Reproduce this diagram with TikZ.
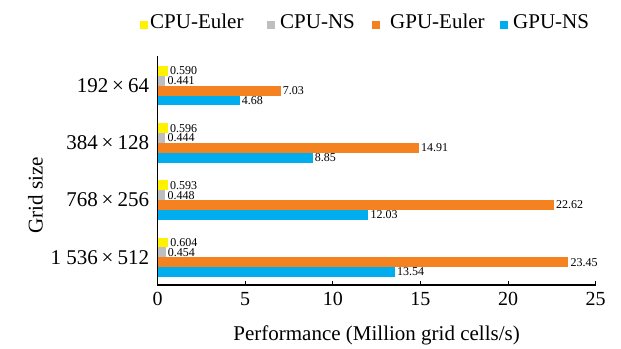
\documentclass[tikz,border=0pt]{standalone}
\usepackage{fontspec}
\setmainfont{Liberation Serif}
\usepackage{tikz}
\usetikzlibrary{positioning}

\definecolor{cpueuler}{HTML}{FFF200}
\definecolor{cpuns}{HTML}{BCBEC0}
\definecolor{gpueuler}{HTML}{F58220}
\definecolor{gpuns}{HTML}{00AEEF}

\newcommand{\gridby}[2]{#1\kern4pt×\kern4pt#2}

\begin{document}
\begin{tikzpicture}[x=17.52pt, y=1pt,
		series 0/.style={fill=cpueuler},
		series 1/.style={fill=cpuns},
		series 2/.style={fill=gpueuler},
		series 3/.style={fill=gpuns},
		axis/.style={line width=1.3pt, black},
		value/.style={anchor=west, inner xsep=2pt, inner ysep=0pt, font=\fontsize{12}{14}\selectfont},
		gridlabel/.style={anchor=east, inner sep=0pt, font=\fontsize{21}{25}\selectfont},
		ticklabel/.style={anchor=base, inner sep=0pt, font=\fontsize{20}{24}\selectfont},
		legendtext/.style={anchor=base west, inner sep=0pt, font=\fontsize{21}{25}\selectfont}]
\useasboundingbox (-157.6pt,-63) rectangle (463.4pt,285);

% bars, four per grid size
\foreach \grid/\vals [count=\i from 0] in {
		{\gridby{192}{64}}/{0.590,0.441,7.03,4.68},
		{\gridby{384}{128}}/{0.596,0.444,14.91,8.85},
		{\gridby{768}{256}}/{0.593,0.448,22.62,12.03},
		{\gridby{1 536}{512}}/{0.604,0.454,23.45,13.54}} {
	\pgfmathsetmacro\gtop{219-57.2*\i}
	\foreach \v [count=\k from 0] in \vals {
		\pgfmathsetmacro\yhi{\gtop-9.85*\k}
		\pgfmathsetmacro\ylo{\yhi-9.85}
		\fill[series \k] (0,\ylo) rectangle (\v,\yhi);
		\node[value] (v\i\k) at (\v,{(\ylo+\yhi)/2}) {\v};
	}
	\node[gridlabel] (g\i) at ([xshift=-8.3pt]0,\gtop-19.7) {\grid};
}

% axes
\draw[axis] (0,229) -- (0,0) -- (25,0);
\foreach \t in {5,10,...,25}
	\draw[line width=1pt] (\t,0) -- (\t,4);
\foreach \t in {0,5,...,25}
	\node[ticklabel] (t\t) at (\t,-20.5) {\t};

\node[anchor=base, font=\fontsize{21}{25}\selectfont] (xlabel) at (12.5,-55) {Performance (Million grid cells/s)};
\node[rotate=90, font=\fontsize{21}{25}\selectfont] (ylabel) at (-122.1pt,90) {Grid size};

% legend
\foreach \name/\xs/\xt [count=\k from 0] in {CPU-Euler/-17.6/-7.6, CPU-NS/109.4/122.4, GPU-Euler/214.4/232.4, GPU-NS/342.4/355.4} {
	\fill[series \k] (\xs pt,256) rectangle ++(8pt,8);
	\node[legendtext] (l\k) at (\xt pt,256) {\name};
}
\end{tikzpicture}
\end{document}
